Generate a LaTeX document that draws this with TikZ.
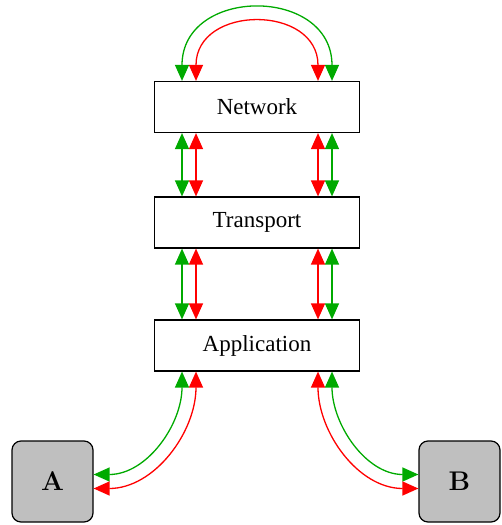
\documentclass[tikz,border=0pt]{standalone}
\usepackage{fontspec}
\setmainfont{Liberation Serif}
\newfontfamily\lmfont{Latin Modern Roman}
\usetikzlibrary{arrows.meta}
\definecolor{arrgreen}{RGB}{0,170,0}
\definecolor{arrred}{RGB}{255,0,0}
\begin{document}
\begin{tikzpicture}[x=1pt,y=1pt,
  layer/.style={draw, line width=1.2pt, minimum width=205pt, minimum height=51pt, inner sep=0pt, font=\fontsize{23}{27}\selectfont},
  host/.style={draw, line width=1.2pt, fill=gray!50, rounded corners=9pt, minimum width=81pt, minimum height=81pt, inner sep=0pt, font=\lmfont\bfseries\fontsize{27}{30}\selectfont},
  link/.style={line width=1.3pt, {Triangle[length=16pt,width=14pt]}-{Triangle[length=16pt,width=14pt]}},
]
\useasboundingbox (0,0) rectangle (501,-525);
\node[layer] (net) at (257,-107) {Network};
\node[layer] (tr) at (257,-222.5) {Transport};
\node[layer] (app) at (257,-345.5) {Application};
\node[host] (A) at (52.5,-481.5) {A};
\node[host] (B) at (459.5,-481.5) {B};
% top arcs
\draw[link, arrgreen] ([xshift=-75pt]net.north) to[out=90, in=90, looseness=1.62] ([xshift=75pt]net.north);
\draw[link, arrred] ([xshift=-61pt]net.north) to[out=90, in=90, looseness=1.61] ([xshift=61pt]net.north);
% network - transport
\draw[link, arrgreen] ([xshift=-75pt]net.south) -- ([xshift=-75pt]tr.north);
\draw[link, arrred] ([xshift=-61pt]net.south) -- ([xshift=-61pt]tr.north);
\draw[link, arrgreen] ([xshift=75pt]net.south) -- ([xshift=75pt]tr.north);
\draw[link, arrred] ([xshift=61pt]net.south) -- ([xshift=61pt]tr.north);
% transport - application
\draw[link, arrgreen] ([xshift=-75pt]tr.south) -- ([xshift=-75pt]app.north);
\draw[link, arrred] ([xshift=-61pt]tr.south) -- ([xshift=-61pt]app.north);
\draw[link, arrgreen] ([xshift=75pt]tr.south) -- ([xshift=75pt]app.north);
\draw[link, arrred] ([xshift=61pt]tr.south) -- ([xshift=61pt]app.north);
% application - hosts
\draw[link, arrgreen] ([xshift=-75pt]app.south) to[out=-90, in=0] ([yshift=7pt]A.east);
\draw[link, arrred] ([xshift=-61pt]app.south) to[out=-90, in=0] ([yshift=-7pt]A.east);
\draw[link, arrgreen] ([xshift=75pt]app.south) to[out=-90, in=180] ([yshift=7pt]B.west);
\draw[link, arrred] ([xshift=61pt]app.south) to[out=-90, in=180] ([yshift=-7pt]B.west);
\end{tikzpicture}
\end{document}
